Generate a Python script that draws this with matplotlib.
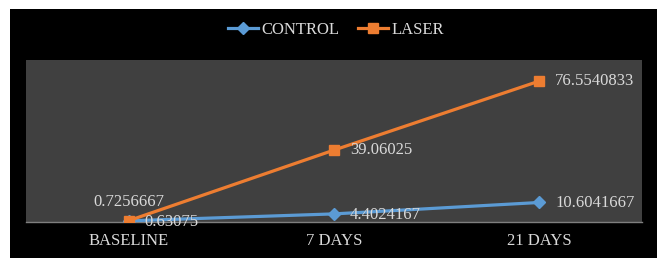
import matplotlib
matplotlib.use("Agg")
import matplotlib.pyplot as plt
from matplotlib.patches import Rectangle

# chart data
categories = ["BASELINE", "7 DAYS", "21 DAYS"]
control = [0.63075, 4.4024167, 10.6041667]
laser = [0.7256667, 39.06025, 76.5540833]
control_labels = ["0.63075", "4.4024167", "10.6041667"]
laser_labels = ["0.7256667", "39.06025", "76.5540833"]

W, H = 657, 258
txt_color = "#d9d9d9"
font = "Liberation Serif"

fig = plt.figure(figsize=(W / 100, H / 100), dpi=100, facecolor="white")

# black frame behind everything
fig.patches.append(Rectangle((10 / W, 0), (W - 10) / W, (H - 9) / H,
                             transform=fig.transFigure, facecolor="black",
                             edgecolor="none", zorder=-10))

ax = fig.add_axes([26 / W, (H - 222) / H, (642 - 26) / W, (222 - 60) / H])
ax.set_facecolor("#404040")

x = list(range(len(categories)))
ax.plot(x, control, color="#5B9BD5", lw=2.3, marker="D", ms=6,
        label="CONTROL", zorder=3)
ax.plot(x, laser, color="#ED7D31", lw=2.3, marker="s", ms=7.5,
        label="LASER", zorder=4)

ax.set_xlim(-0.5, 2.5)
ax.set_ylim(0, 88)
ax.set_xticks(x)
ax.set_xticklabels(categories, fontsize=12, color=txt_color, family=font)
ax.set_yticks([])
ax.tick_params(axis="x", length=0, pad=8)
for s in ["top", "left", "right"]:
    ax.spines[s].set_visible(False)
ax.spines["bottom"].set_color("#7f7f7f")
ax.spines["bottom"].set_linewidth(1)

# data labels
for i in x:
    if i == 0:
        ax.annotate(laser_labels[i], (i, laser[i]), xytext=(0, 19),
                    textcoords="offset pixels", ha="center", va="center",
                    fontsize=12, color=txt_color, family=font, zorder=5)
    else:
        ax.annotate(laser_labels[i], (i, laser[i]), xytext=(16, 0),
                    textcoords="offset pixels", ha="left", va="center",
                    fontsize=12, color=txt_color, family=font, zorder=5)
    ax.annotate(control_labels[i], (i, control[i]), xytext=(16, -1),
                textcoords="offset pixels", ha="left", va="center",
                fontsize=12, color=txt_color, family=font, zorder=5,
                annotation_clip=False)

leg = fig.legend(loc="center", bbox_to_anchor=(336 / W, (H - 30) / H), ncol=2,
                 frameon=False, handlelength=1.8, handletextpad=0.2,
                 columnspacing=1.1, prop={"family": font, "size": 12})
for t in leg.get_texts():
    t.set_color(txt_color)

fig.savefig("out.png", dpi=100, facecolor="white")
